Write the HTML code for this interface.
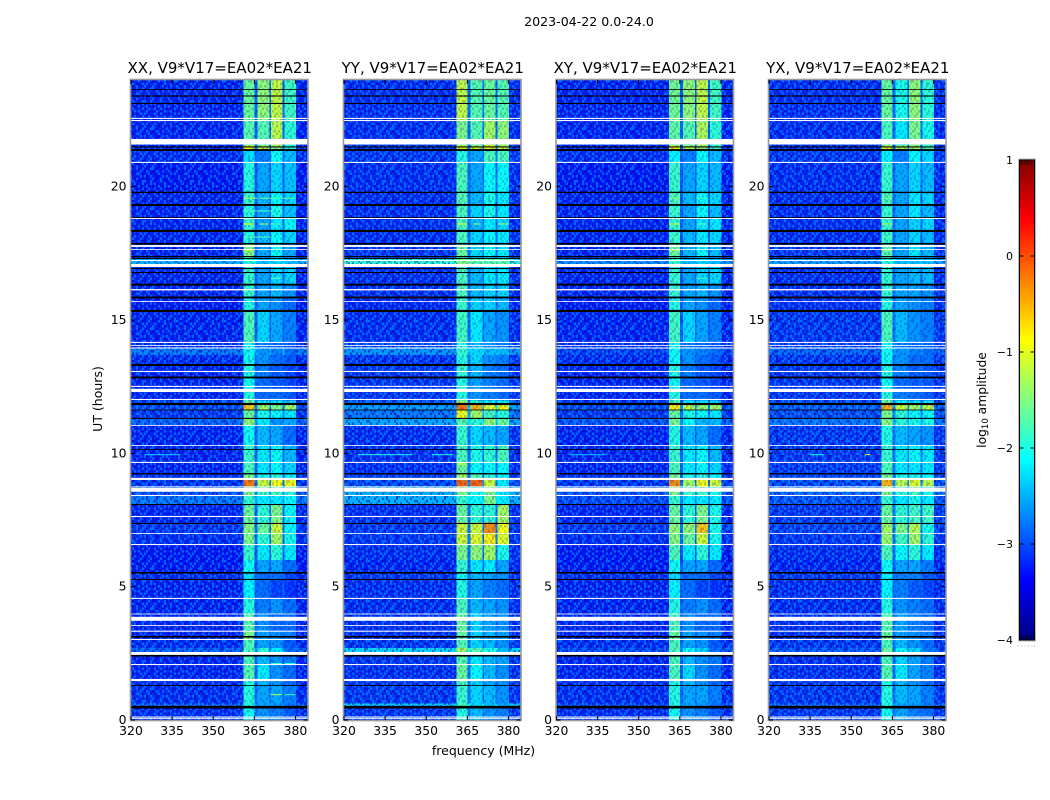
<!DOCTYPE html>
<html>
<head>
<meta charset="utf-8">
<title>2023-04-22 0.0-24.0</title>
<style>
html,body{margin:0;padding:0;background:#fff;width:1050px;height:800px;overflow:hidden}
svg{display:block}
text{font-family:"DejaVu Sans","Liberation Sans",sans-serif;fill:#000}
</style>
</head>
<body>
<svg id="figure" xmlns="http://www.w3.org/2000/svg" width="1050" height="800" viewBox="0 0 1050 800">
  <defs>
    <linearGradient id="jet-gradient" x1="0" y1="1" x2="0" y2="0"></linearGradient>
    <pattern id="speckle-tile" patternUnits="userSpaceOnUse" width="48" height="40"></pattern>
  </defs>
  <rect width="1050" height="800" fill="#fff"/>
  <text x="589" y="26" font-size="12.6" text-anchor="middle">2023-04-22 0.0-24.0</text>
  <text x="483.5" y="755" font-size="12.5" text-anchor="middle">frequency (MHz)</text>
  <text x="0" y="0" font-size="12.5" text-anchor="middle" transform="translate(102,399) rotate(-90)">UT (hours)</text>
  <text x="0" y="0" font-size="12.3" text-anchor="middle" transform="translate(986,400) rotate(-90)">log<tspan font-size="8.5" dy="2">10</tspan><tspan dy="-2"> amplitude</tspan></text>
  <g id="panels"></g>
  <g id="colorbar"></g>
</svg>
<script>
// ---- chart data: hours UT, MHz, log10 amplitude ----
const panelTitles = ["XX, V9*V17=EA02*EA21","YY, V9*V17=EA02*EA21","XY, V9*V17=EA02*EA21","YX, V9*V17=EA02*EA21"];
const xTickLabels = [320,335,350,365,380];
const yTickLabels = [0,5,10,15,20];
const colorTickLabels = [1,0,-1,-2,-3,-4];
// frequency band edges; columns: bg, A, notch, B, notch, C, notch, D, tail
const bandEdges = [320,361,365,366.2,370.5,371,375.3,376,380.2,384.4];
// row upper edges in hours; last value closes the final row
const rowEdges = [24,22.5,21.55,21.4,20.9,19.8,19.3,18.85,18.35,17.85,17.4,17.28,17.1,16.35,15.85,15.35,14.15,13.93,13.68,13.3,12.85,12.3,11.99,11.87,11.62,11.3,11.05,10.3,9.66,9.2,9.02,8.72,8.44,8.08,7.4,7.0,6.58,6.0,5.52,5.27,4.56,3.97,3.32,3.0,2.7,2.52,2.08,1.5,1.3,0.62,0.45,0];
// rows: [background, band A, band B, band C, band D]
const xxLevels = [[-3.2,-1.6,-1.4,-1.15,-1.8],[-3.2,-1.7,-1.7,-1.2,-1.9],[-3.2,-0.9,-1.2,-1.4,-1.9],[-3.15,-2.25,-2.75,-2.05,-2.45],[-3.25,-1.95,-2.55,-2.3,-2.4],[-3.2,-1.85,-2.45,-2.1,-2.3],[-3.2,-1.95,-2.55,-2.0,-2.4],[-3.2,-1.85,-2.55,-2.2,-2.1],[-3.2,-1.95,-2.45,-2.1,-2.3],[-3.2,-1.5,-2.55,-2.1,-2.55],[-3.1,-1.7,-2.55,-2.2,-2.55],[-2.5,-1.95,-2.45,-2.3,-2.45],[-3.2,-1.85,-2.55,-2.3,-2.3],[-3.2,-1.85,-2.55,-2.45,-2.65],[-3.25,-1.95,-2.55,-2.65,-2.85],[-3.2,-1.75,-2.3,-2.55,-2.75],[-3.15,-2.05,-2.75,-2.85,-2.95],[-2.8,-2.05,-2.65,-2.75,-2.85],[-3.15,-2.05,-2.65,-2.85,-2.95],[-3.2,-1.95,-2.75,-2.95,-3.05],[-3.2,-2.05,-2.85,-2.95,-3.05],[-3.2,-1.95,-2.85,-2.85,-2.95],[-3.0,-1.6,-2.2,-2.2,-2.3],[-3.0,-0.6,-1.3,-1.5,-1.3],[-3.1,-1.6,-2.0,-2.1,-2.2],[-2.9,-1.4,-2.2,-2.65,-2.55],[-3.2,-2.05,-2.45,-2.55,-2.85],[-3.2,-1.85,-2.2,-2.1,-2.45],[-3.2,-1.75,-2.2,-2.1,-2.3],[-3.15,-1.5,-2.0,-1.9,-2.1],[-3.1,-0.2,-1.1,-0.9,-0.9],[-3.0,-1.5,-1.8,-1.8,-1.9],[-2.8,-1.85,-2.2,-2.2,-2.1],[-3.2,-1.6,-1.9,-1.5,-2.1],[-3.1,-1.45,-1.6,-1.1,-2.1],[-3.15,-1.5,-1.9,-1.3,-2.0],[-3.25,-1.85,-2.2,-1.9,-2.2],[-3.25,-2.05,-2.55,-2.55,-2.85],[-3.15,-2.25,-2.85,-2.85,-3.05],[-3.2,-2.15,-2.85,-3.05,-3.15],[-3.2,-1.95,-2.75,-2.65,-2.85],[-3.2,-1.7,-2.65,-2.85,-2.85],[-3.2,-1.5,-2.55,-2.65,-2.75],[-3.15,-1.75,-2.55,-2.65,-2.95],[-2.9,-1.75,-1.9,-2.2,-2.85],[-3.2,-1.75,-2.45,-2.65,-2.75],[-3.2,-1.7,-2.2,-2.65,-2.85],[-3.15,-1.95,-2.45,-2.65,-2.85],[-3.15,-1.95,-2.55,-2.55,-2.75],[-2.9,-1.95,-2.55,-2.65,-2.85],[-3.15,-2.05,-2.65,-2.75,-2.95]];
const yyLevels = [[-3.15,-1.15,-1.7,-1.6,-1.7],[-3.15,-1.5,-1.7,-1.3,-1.4],[-3.1,-1.0,-1.1,-0.9,-1.1],[-3.1,-1.95,-2.55,-1.75,-1.75],[-3.15,-1.75,-2.55,-2.1,-2.1],[-3.15,-1.7,-2.45,-2.0,-2.2],[-3.15,-1.75,-2.3,-2.0,-2.2],[-3.15,-1.75,-2.45,-2.2,-2.3],[-3.15,-1.75,-2.3,-2.1,-2.2],[-3.1,-1.6,-2.3,-2.1,-2.2],[-3.0,-1.7,-2.3,-2.2,-2.2],[-1.9,-1.5,-1.7,-1.7,-1.7],[-3.15,-1.75,-2.45,-2.2,-2.2],[-3.15,-1.75,-2.45,-2.3,-2.3],[-3.2,-1.85,-2.3,-2.3,-2.45],[-3.15,-1.8,-2.2,-2.55,-2.65],[-3.0,-1.95,-2.45,-2.65,-2.75],[-2.65,-1.85,-2.3,-2.45,-2.45],[-3.1,-1.95,-2.3,-2.65,-2.75],[-3.1,-1.85,-2.45,-2.75,-2.85],[-3.1,-1.95,-2.55,-2.75,-2.85],[-3.1,-1.95,-2.65,-2.75,-2.85],[-2.9,-1.3,-1.9,-2.1,-2.1],[-2.6,-0.2,-0.5,-1.0,-0.9],[-2.8,-0.9,-1.3,-1.8,-1.9],[-2.55,-1.7,-1.9,-1.4,-1.6],[-3.15,-1.85,-2.3,-2.45,-2.55],[-3.15,-1.75,-2.0,-1.9,-1.75],[-3.15,-1.6,-2.1,-2.1,-2.1],[-3.1,-1.3,-1.7,-1.9,-2.1],[-3.0,-0.1,-0.1,-1.1,-2.2],[-2.5,-1.5,-2.0,-1.5,-2.2],[-2.5,-1.85,-2.1,-1.5,-2.2],[-3.15,-1.6,-1.9,-1.9,-1.3],[-3.1,-1.1,-1.1,-0.3,-0.9],[-3.1,-1.1,-1.0,-0.8,-1.0],[-3.15,-1.5,-1.4,-1.3,-2.0],[-3.2,-1.85,-2.2,-2.2,-2.55],[-3.1,-2.05,-2.45,-2.55,-2.65],[-3.15,-1.95,-2.55,-2.75,-2.85],[-3.15,-1.75,-2.45,-2.55,-2.65],[-3.15,-1.6,-2.3,-2.55,-2.65],[-3.15,-1.6,-2.3,-2.45,-2.55],[-3.1,-1.7,-2.3,-2.45,-2.65],[-2.3,-1.3,-1.7,-2.0,-2.45],[-3.1,-1.7,-2.2,-2.45,-2.55],[-3.15,-1.6,-2.1,-2.45,-2.65],[-3.1,-1.75,-2.3,-2.55,-2.65],[-3.1,-1.85,-2.3,-2.45,-2.65],[-2.35,-1.75,-2.3,-2.45,-2.55],[-3.1,-1.95,-2.45,-2.65,-2.75]];
const xyLevels = [[-3.2,-1.55,-1.4,-1.15,-1.8],[-3.2,-1.65,-1.7,-1.25,-1.9],[-3.2,-0.9,-1.2,-1.3,-1.8],[-3.15,-2.15,-2.75,-2.1,-2.45],[-3.25,-1.85,-2.55,-2.3,-2.45],[-3.2,-1.75,-2.45,-2.1,-2.3],[-3.2,-1.85,-2.55,-2.1,-2.45],[-3.2,-1.85,-2.55,-2.2,-2.2],[-3.2,-1.85,-2.45,-2.2,-2.3],[-3.2,-1.6,-2.45,-2.1,-2.45],[-3.1,-1.7,-2.55,-2.2,-2.55],[-2.7,-1.85,-2.45,-2.3,-2.45],[-3.2,-1.85,-2.55,-2.3,-2.3],[-3.2,-1.85,-2.55,-2.45,-2.65],[-3.25,-1.95,-2.55,-2.65,-2.85],[-3.2,-1.8,-2.3,-2.55,-2.75],[-3.15,-2.05,-2.75,-2.85,-2.95],[-3.05,-2.05,-2.65,-2.75,-2.85],[-3.15,-2.05,-2.65,-2.85,-2.95],[-3.2,-1.95,-2.75,-2.95,-3.05],[-3.2,-2.05,-2.85,-2.95,-3.05],[-3.2,-1.95,-2.85,-2.85,-2.95],[-3.1,-1.7,-2.2,-2.2,-2.3],[-3.0,-0.8,-1.2,-1.4,-1.3],[-3.1,-1.6,-2.0,-2.1,-2.2],[-2.95,-1.5,-2.1,-2.45,-2.45],[-3.2,-1.95,-2.45,-2.55,-2.85],[-3.2,-1.85,-2.2,-2.1,-2.45],[-3.2,-1.75,-2.2,-2.1,-2.3],[-3.15,-1.5,-2.0,-1.9,-2.1],[-3.1,-0.3,-1.3,-0.9,-1.1],[-3.0,-1.5,-1.8,-1.8,-2.0],[-3.0,-1.85,-2.2,-2.2,-2.2],[-3.2,-1.6,-1.9,-1.5,-2.0],[-3.1,-1.4,-1.4,-0.6,-2.0],[-3.15,-1.45,-1.6,-1.1,-2.0],[-3.25,-1.75,-2.2,-1.9,-2.2],[-3.25,-2.05,-2.55,-2.55,-2.85],[-3.15,-2.25,-2.85,-2.85,-3.05],[-3.2,-2.15,-2.85,-3.05,-3.15],[-3.2,-1.95,-2.75,-2.65,-2.85],[-3.2,-1.75,-2.65,-2.85,-2.85],[-3.2,-1.6,-2.55,-2.65,-2.75],[-3.15,-1.75,-2.55,-2.65,-2.95],[-3.0,-1.75,-2.1,-2.3,-2.85],[-3.2,-1.75,-2.45,-2.65,-2.75],[-3.2,-1.75,-2.3,-2.65,-2.85],[-3.15,-1.95,-2.45,-2.65,-2.85],[-3.15,-1.95,-2.55,-2.55,-2.75],[-3.0,-1.95,-2.55,-2.65,-2.85],[-3.15,-2.05,-2.65,-2.75,-2.95]];
const yxLevels = [[-3.15,-1.6,-2.0,-1.4,-1.9],[-3.15,-1.75,-2.2,-1.5,-2.0],[-3.15,-1.0,-1.2,-1.3,-1.7],[-3.1,-2.15,-2.75,-2.1,-2.3],[-3.15,-1.85,-2.55,-2.3,-2.45],[-3.15,-1.75,-2.55,-2.2,-2.3],[-3.15,-1.85,-2.55,-2.2,-2.45],[-3.15,-1.85,-2.55,-2.3,-2.3],[-3.15,-1.85,-2.55,-2.3,-2.45],[-3.1,-1.7,-2.55,-2.2,-2.45],[-3.05,-1.75,-2.55,-2.3,-2.55],[-2.6,-1.95,-2.45,-2.45,-2.45],[-3.15,-1.85,-2.55,-2.45,-2.45],[-3.15,-1.85,-2.55,-2.55,-2.65],[-3.15,-1.95,-2.55,-2.65,-2.75],[-3.1,-1.75,-2.45,-2.65,-2.75],[-3.05,-2.05,-2.75,-2.85,-2.85],[-2.9,-2.05,-2.65,-2.75,-2.85],[-3.1,-2.05,-2.65,-2.85,-2.85],[-3.1,-1.95,-2.75,-2.95,-2.95],[-3.1,-2.05,-2.85,-2.95,-2.95],[-3.1,-1.95,-2.75,-2.85,-2.95],[-3.0,-1.55,-2.1,-2.2,-2.2],[-2.9,-0.5,-1.1,-1.3,-1.2],[-3.0,-1.5,-1.9,-2.1,-2.1],[-2.8,-1.45,-1.9,-2.0,-2.0],[-3.1,-1.95,-2.45,-2.55,-2.65],[-3.1,-1.85,-2.2,-2.1,-2.2],[-3.1,-1.75,-2.2,-2.2,-2.2],[-3.05,-1.5,-2.0,-2.0,-2.1],[-3.0,-0.5,-1.2,-1.0,-1.2],[-2.9,-1.5,-1.9,-1.8,-2.0],[-2.95,-1.85,-2.2,-2.0,-2.2],[-3.1,-1.6,-1.9,-1.8,-1.8],[-3.05,-1.3,-1.5,-1.2,-2.0],[-3.1,-1.35,-1.8,-1.3,-1.9],[-3.15,-1.75,-2.1,-1.9,-2.2],[-3.2,-2.05,-2.55,-2.55,-2.75],[-3.1,-2.15,-2.75,-2.75,-2.95],[-3.15,-2.15,-2.75,-2.95,-3.05],[-3.15,-1.95,-2.65,-2.75,-2.85],[-3.15,-1.7,-2.55,-2.75,-2.85],[-3.15,-1.6,-2.55,-2.65,-2.75],[-3.1,-1.75,-2.45,-2.65,-2.85],[-2.95,-1.6,-2.1,-2.3,-2.75],[-3.15,-1.75,-2.3,-2.55,-2.75],[-3.15,-1.7,-2.2,-2.55,-2.75],[-3.1,-1.95,-2.45,-2.65,-2.85],[-3.1,-1.95,-2.45,-2.55,-2.75],[-2.9,-1.95,-2.55,-2.65,-2.75],[-3.1,-2.05,-2.55,-2.75,-2.85]];
// narrowband bursts: [hour, start MHz, end MHz, level]
const xxBursts = [[19.57,361,366,-1.3],[19.57,367,371,-1.5],[19.57,371,380,-1.7],[19.09,361,371,-1.7],[18.6,361,365,-0.9],[18.6,367,370,-1.2],[18.6,371,375,-1.7],[18.11,361,371,-1.7],[17.62,361,365,-1.0],[16.57,371,375,-1.6],[9.95,325,338,-2.3],[2.12,371,375,-1.8],[2.12,376,380,-2.0],[0.95,371,375,-1.2],[0.95,376,380,-1.8]];
const yyBursts = [[18.6,361,365,-1.1],[18.6,367,370,-1.4],[18.6,376,380,-1.3],[9.95,325,345,-2.0],[9.95,352,360,-2.0],[9.6,361,365,-1.0]];
const xyBursts = [[19.57,361,365,-1.5],[19.57,371,375,-1.8],[19.09,361,365,-1.8],[18.6,361,365,-1.1],[18.6,371,375,-1.7],[18.11,361,365,-1.7],[17.62,361,365,-1.2],[16.57,371,375,-1.8],[9.95,325,338,-2.4]];
const yxBursts = [[19.57,361,365,-1.6],[18.6,361,365,-1.3],[18.11,361,365,-1.7],[17.62,361,365,-1.3],[9.95,335,340,-2.0],[9.95,355,357,-1.0]];
const panelLevels = [xxLevels,yyLevels,xyLevels,yxLevels];
const panelBursts = [xxBursts,yyBursts,xyBursts,yxBursts];
// flagged time ranges [start hour, end hour]
const whiteGaps = [[22.54,22.58],[22.46,22.5],[21.58,21.79],[20.89,20.93],[18.79,18.83],[17.74,17.81],[17.63,17.66],[17.21,17.25],[16.99,17.1],[16.11,16.16],[15.68,15.71],[14.14,14.18],[14.03,14.06],[13.93,13.97],[13.05,13.09],[12.49,12.53],[12.3,12.42],[12.0,12.04],[11.03,11.06],[10.28,10.31],[9.64,9.68],[9.0,9.08],[8.72,8.76],[8.56,8.7],[8.4,8.44],[7.61,7.65],[6.98,7.01],[6.56,6.6],[4.54,4.58],[3.96,3.99],[3.72,3.87],[3.53,3.56],[3.31,3.35],[3.0,3.04],[2.44,2.55],[2.06,2.1],[1.46,1.54],[0.09,0.13],[0.04,0.07]];
const blackGaps = [[23.63,23.66],[23.38,23.42],[23.1,23.14],[21.47,21.51],[21.34,21.41],[19.76,19.81],[19.28,19.35],[18.83,18.86],[18.3,18.38],[17.83,17.89],[17.36,17.4],[17.29,17.33],[16.91,16.95],[16.76,16.8],[16.29,16.36],[15.81,15.88],[15.3,15.38],[13.28,13.35],[12.81,12.88],[11.81,11.89],[11.61,11.64],[11.29,11.33],[10.13,10.16],[9.21,9.26],[8.06,8.1],[7.35,7.39],[5.49,5.55],[5.25,5.29],[3.09,3.15],[2.38,2.44],[1.28,1.31],[0.43,0.53]];

// ---- layout ----
const panelLefts = [131,344,556.5,769];
const plotWidth = 176.5, plotTop = 80, plotBottom = 720;
const freqMin = 320, freqMax = 384.4, hourMin = 0, hourMax = 24;
const cbarLeft = 1019.5, cbarRight = 1034.5, cbarTop = 160, cbarBottom = 640, valueMin = -4, valueMax = 1;
const NS = 'http://www.w3.org/2000/svg';
const root = document.getElementById('panels');
const cbar = document.getElementById('colorbar');

function xScale(left, f){ return left + (f - freqMin) / (freqMax - freqMin) * plotWidth; }
function yScale(h){ return plotBottom - (h - hourMin) / (hourMax - hourMin) * (plotBottom - plotTop); }
function clamp01(v){ return Math.max(0, Math.min(1, v)); }
function jet(v){
  const r = clamp01(1.5 - Math.abs(4*v - 3));
  const g = clamp01(1.5 - Math.abs(4*v - 2));
  const b = clamp01(1.5 - Math.abs(4*v - 1));
  return 'rgb(' + Math.round(r*255) + ',' + Math.round(g*255) + ',' + Math.round(b*255) + ')';
}
function levelColor(x){ return jet(clamp01((x - valueMin) / (valueMax - valueMin))); }
function mk(tag, attrs, parent){
  const el = document.createElementNS(NS, tag);
  for (const k in attrs) el.setAttribute(k, attrs[k]);
  parent.appendChild(el);
  return el;
}

// speckle texture tile ('d' darker sample, 'l' lighter sample, '.' mean)
const speckleRows = [
"d.l.dd.l..ld.d.ll.d..l.d",
".ld..l.dd.l..ld.d.l.dd.l",
"l.d.l..d.ld.dl..l.d.l.d.",
".d.ll.d..d.l..dd.l..ld.l",
"dl..d.l.dl..l.d.ld.d..l.",
"..ld.d.l..d.dl.l..d.ll.d",
"ld.l..dd.l.l..d.dl..d.l.",
".d..l.d.l.d.ld...l.dl..d",
"l.dl.d..l..d.l.dd.l..d.l",
"d..l.ld.d.l.d..l.d.ld..l",
".ld.d..l.dl.l.d.l..d.ld.",
"d.l..ld.l..d.d.l.dl.d..l",
".l.dd.l.d.l..ld.d..l.l.d",
"l.d..l.dl.d.d..l.ld.d.l.",
".dl.d.l...ld.l.d.d.l..dl",
"d..ld.d.l.d.l.dl..l.d.l."
];
const tile = document.getElementById('speckle-tile');
speckleRows.forEach(function(row, j){
  row.split('').forEach(function(c, i){
    if (c === '.') return;
    mk('rect', {x: i*2, y: j*2.5, width: 2, height: 2.5,
      fill: c === 'd' ? 'rgb(0,0,150)' : 'rgb(0,170,255)',
      opacity: c === 'd' ? 0.5 : 0.5}, tile);
  });
});

// ---- panels ----
panelTitles.forEach(function(title, p){
  const left = panelLefts[p];
  const panelKey = title.slice(0,2).toLowerCase();
  const g = mk('g', {}, root);
  
  

  // heatmap cells
  const levels = panelLevels[p];
  const cells = mk('g', {'shape-rendering':'crispEdges'}, g);
  
  
  levels.forEach(function(row, r){
    const top = yScale(rowEdges[r]), bottom = yScale(rowEdges[r+1]);
    for (let c = 0; c + 1 < bandEdges.length; c++){
      let value;
      if (c === 0 || c === 8) value = row[0];
      else if (c % 2 === 0) value = row[0] + 0.3;
      else value = row[(c + 1) / 2];
      const x0 = xScale(left, bandEdges[c]), x1 = xScale(left, bandEdges[c+1]);
      const cell = mk('rect', {x: x0, y: top, width: x1 - x0, height: bottom - top, fill: levelColor(value)}, cells);
      
      
    }
  });

  // noise texture: strong over background, fainter over bright bands
  const bandL = xScale(left, bandEdges[1]), bandR = xScale(left, bandEdges[8]);
  const tex1 = mk('rect', {x: left, y: plotTop, width: bandL - left, height: plotBottom - plotTop, fill: 'url(#speckle-tile)'}, g);
  
  
  const tex2 = mk('rect', {x: bandL, y: plotTop, width: bandR - bandL, height: plotBottom - plotTop, fill: 'url(#speckle-tile)', opacity: 0.45}, g);
  
  
  const tex3 = mk('rect', {x: bandR, y: plotTop, width: left + plotWidth - bandR, height: plotBottom - plotTop, fill: 'url(#speckle-tile)'}, g);
  
  

  // bursts
  panelBursts[p].forEach(function(b){
    const x0 = xScale(left, b[1]), x1 = xScale(left, b[2]);
    const burst = mk('rect', {x: x0, y: yScale(b[0]) - 0.5, width: x1 - x0, height: 1, fill: levelColor(b[3])}, g);
    
    
  });

  // flagged rows
  whiteGaps.forEach(function(b){
    const w = mk('rect', {x: left, y: yScale(b[1]), width: plotWidth, height: yScale(b[0]) - yScale(b[1]), fill: '#fff'}, g);
    
    
  });
  blackGaps.forEach(function(b){
    const k = mk('rect', {x: left, y: yScale(b[1]), width: plotWidth, height: yScale(b[0]) - yScale(b[1]), fill: '#000'}, g);
    
    
  });

  // frame
  const frame = mk('rect', {x: left - 0.5, y: plotTop - 0.5, width: plotWidth + 1, height: plotBottom - plotTop + 1, fill: 'none', stroke: '#9a9a9a', 'stroke-width': 1.6}, g);
  
  

  // x ticks
  xTickLabels.forEach(function(t){
    const x = xScale(left, t);
    const tb = mk('line', {x1: x, x2: x, y1: plotBottom, y2: plotBottom - 4, stroke: '#000', 'stroke-width': 1}, g);
    
    
    const tt = mk('line', {x1: x, x2: x, y1: plotTop, y2: plotTop + 4, stroke: '#000', 'stroke-width': 1}, g);
    
    
    const lab = mk('text', {x: x, y: 735, 'font-size': 12.4, 'text-anchor': 'middle'}, g);
    
    
    lab.textContent = t;
  });

  // y ticks
  yTickLabels.forEach(function(t){
    const y = yScale(t);
    const tl = mk('line', {x1: left, x2: left + 4, y1: y, y2: y, stroke: '#000', 'stroke-width': 1}, g);
    
    
    const tr = mk('line', {x1: left + plotWidth, x2: left + plotWidth - 4, y1: y, y2: y, stroke: '#000', 'stroke-width': 1}, g);
    
    
    const lab = mk('text', {x: left - 4.5, y: y + 4, 'font-size': 12.4, 'text-anchor': 'end'}, g);
    
    
    lab.textContent = t;
  });

  // title
  const ttl = mk('text', {x: left + plotWidth / 2 + 0.5, y: 73, 'font-size': 15, 'text-anchor': 'middle'}, g);
  
  
  ttl.textContent = title;
});

// ---- colorbar ----
const grad = document.getElementById('jet-gradient');
for (let i = 0; i <= 32; i++){
  mk('stop', {offset: (i/32*100) + '%', 'stop-color': jet(i/32)}, grad);
}
function cbarY(v){ return cbarBottom - (v - valueMin) / (valueMax - valueMin) * (cbarBottom - cbarTop); }
const cbRect = mk('rect', {x: cbarLeft, y: cbarTop, width: cbarRight - cbarLeft, height: cbarBottom - cbarTop, fill: 'url(#jet-gradient)', stroke: '#000', 'stroke-width': 1}, cbar);


const cbOuter = mk('rect', {x: cbarLeft - 1, y: cbarTop - 1, width: cbarRight - cbarLeft + 2, height: cbarBottom - cbarTop + 2, fill: 'none', stroke: '#bbb', 'stroke-width': 1}, cbar);


colorTickLabels.forEach(function(v){
  const y = cbarY(v);
  const a = mk('line', {x1: cbarLeft, x2: cbarLeft + 4, y1: y, y2: y, stroke: '#000'}, cbar);
  
  
  const b = mk('line', {x1: cbarRight, x2: cbarRight - 4, y1: y, y2: y, stroke: '#000'}, cbar);
  
  
  const lab = mk('text', {x: 1013, y: y + 4, 'font-size': 11, 'text-anchor': 'end'}, cbar);
  
  
  lab.textContent = v < 0 ? '\u2212' + (-v) : String(v);
});
[1022,1025,1028,1031].forEach(function(x){
  const t = mk('line', {x1: x, x2: x, y1: cbarTop, y2: cbarTop + 5, stroke: '#000', 'stroke-width': 0.8}, cbar);
  
  
  const u = mk('line', {x1: x, x2: x, y1: cbarBottom, y2: cbarBottom - 5, stroke: '#000', 'stroke-width': 0.8}, cbar);
  
  
});
[1017.5,1021,1024.5,1028,1031.5,1034].forEach(function(x){
  const d = mk('rect', {x: x, y: 645.5, width: 1, height: 1, fill: '#aaa'}, cbar);
  
  
});
</script>
</body>
</html>
